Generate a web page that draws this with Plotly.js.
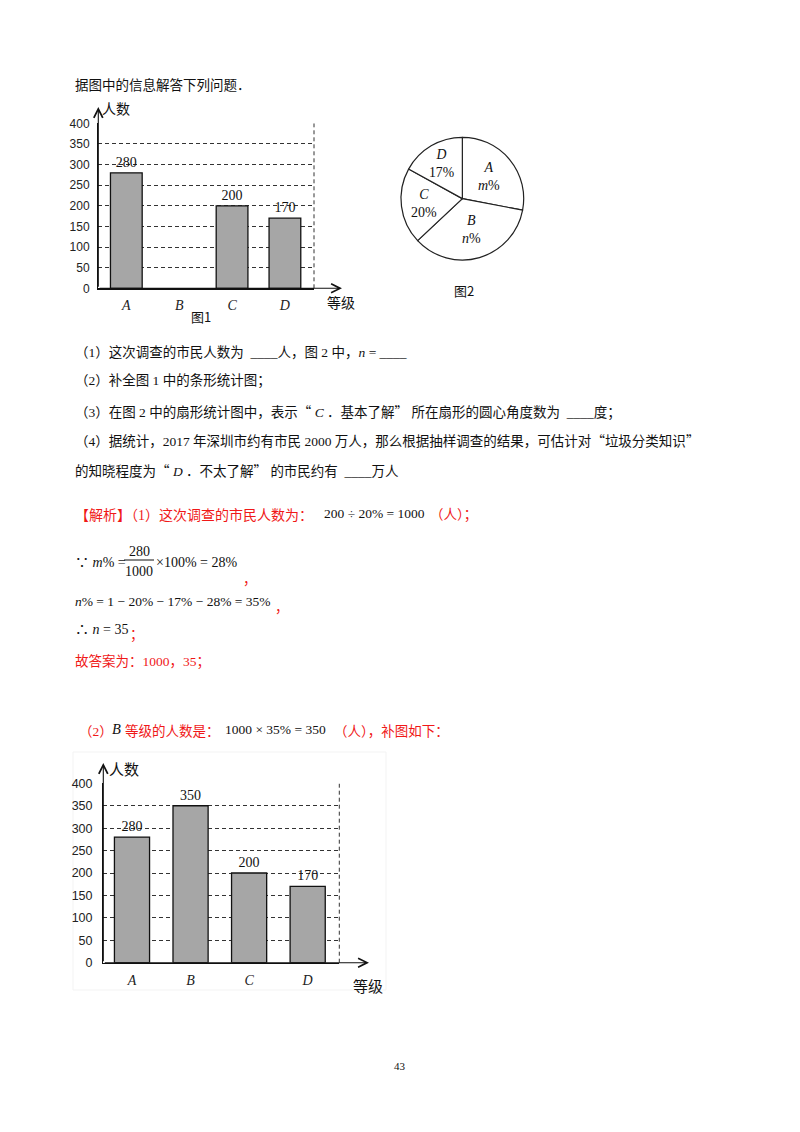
<!DOCTYPE html>
<html>
<head>
<meta charset="utf-8">
<script src="https://cdn.plot.ly/plotly-3.0.1.min.js"></script>
<style>
  html, body { margin: 0; padding: 0; background: #fff; }
  #page { width: 800px; height: 1132px; }
</style>
</head>
<body>
<div id="page"></div>
<script>
// 图1: B 等级未画出
let grades = ["A", "B", "C", "D"];
let counts1 = [280, null, 200, 170];
// 补全后的条形图
let counts2 = [280, 350, 200, 170];
// 图2 扇形
let pieValues = [28, 35, 20, 17];
let pieText = ["<i>m</i>%", "<i>n</i>%", "20%", "17%"];
let yTicks = [0, 50, 100, 150, 200, 250, 300, 350, 400];

const W = 800, H = 1132;
const px = x => x / W;
const py = y => 1 - y / H;

const SERIF = '"Liberation Serif", "Noto Sans CJK SC", serif';
const CJK = '"Liberation Serif", "Noto Sans CJK SC", sans-serif';
const RED = "#f01818";
const barColor = "#a6a6a6";

let tickText = grades.map(g => "<i>" + g + "</i>");

function barTrace(vals, xa, ya) {
    return {
        type: "bar",
        x: grades,
        y: vals,
        xaxis: xa,
        yaxis: ya,
        width: 0.6,
        marker: {color: barColor, line: {color: "#111", width: 1.3}},
        text: vals.map(v => v == null ? "" : String(v)),
        textposition: "outside",
        textfont: {family: SERIF, size: 14, color: "#111"},
        cliponaxis: false,
        hoverinfo: "skip"
    };
}

let pie = {
    type: "pie",
    values: pieValues,
    labels: grades,
    text: grades.map((g, i) => "<i>" + g + "</i><br>" + pieText[i]),
    textinfo: "text",
    textposition: "inside",
    insidetextorientation: "horizontal",
    sort: false,
    direction: "clockwise",
    rotation: 0,
    marker: {colors: ["#fff", "#fff", "#fff", "#fff"], line: {color: "#222", width: 1.2}},
    textfont: {family: SERIF, size: 14, color: "#111"},
    domain: {x: [px(400.7), px(524)], y: [py(260), py(137.3)]},
    showlegend: false,
    hoverinfo: "skip"
};

function yAxis(d0, d1, size, standoff) {
    return {
        domain: [py(d0), py(d1)],
        range: [0, 400],
        tickvals: yTicks,
        ticks: "",
        ticklabelstandoff: standoff,
        tickfont: {family: '"Liberation Sans", Arial, sans-serif', size: size, color: "#222"},
        showgrid: true,
        gridcolor: "#333",
        gridwidth: 1,
        griddash: "4px,3px",
        zeroline: false,
        showline: true,
        linecolor: "#111",
        linewidth: 1.3,
        fixedrange: true
    };
}

function xAxis(d0, d1, r0, r1, anchor) {
    return {
        domain: [px(d0), px(d1)],
        range: [r0, r1],
        type: "category",
        tickvals: grades,
        ticktext: tickText,
        ticks: "",
        ticklabelstandoff: 4,
        tickfont: {family: SERIF, size: 14, color: "#222"},
        showgrid: false,
        zeroline: false,
        showline: true,
        linecolor: "#111",
        linewidth: 1.3,
        anchor: anchor,
        fixedrange: true
    };
}

function arrow(x0, y0, x1, y1) {
    return {
        xref: "paper", yref: "paper",
        x: px(x1), y: py(y1),
        ax: x0 - x1, ay: y0 - y1,
        axref: "pixel", ayref: "pixel",
        text: "", showarrow: true,
        arrowhead: 5, arrowsize: 1.6, arrowwidth: 1.1, arrowcolor: "#111",
        standoff: 0, startstandoff: 0
    };
}

function txt(x, y, s, opt) {
    opt = opt || {};
    return {
        xref: "paper", yref: "paper",
        x: px(x), y: py(y),
        xanchor: opt.anchor || "left", yanchor: "middle",
        text: s, showarrow: false,
        font: {family: opt.family || CJK, size: opt.size || 13.5, color: opt.color || "#111"}
    };
}

const red = s => '<span style="color:' + RED + '">' + s + '</span>';
// 全角引号用中文字体
const cj = s => '<span style="font-family:Noto Sans CJK SC">' + s + '</span>';
const M = {family: SERIF, size: 14.5};

let annotations = [
    txt(73, 85, "据图中的信息解答下列问题．"),
    // 图1
    arrow(98.3, 288.3, 98.3, 107),
    arrow(98.3, 288.3, 342, 288.3),
    txt(116, 108, "人数", {anchor: "center", size: 14, family: '"Noto Sans CJK SC"'}),
    txt(341, 302, "等级", {anchor: "center", size: 14, family: '"Noto Sans CJK SC"'}),
    txt(201, 316, "图1", {anchor: "center", size: 13, family: '"Noto Sans CJK SC"'}),
    // 图2
    txt(464, 290, "图2", {anchor: "center", size: 13, family: '"Noto Sans CJK SC"'}),
    // 问题
    txt(73, 352, "（1）这次调查的市民人数为  ____人，图 2 中，<i>n</i> = ____"),
    txt(73, 381, "（2）补全图 1 中的条形统计图；"),
    txt(73, 411, "（3）在图 2 中的扇形统计图中，表示" + cj("“") + " <i>C</i> ．基本了解" + cj("”") + " 所在扇形的圆心角度数为  ____度；"),
    txt(73, 440, "（4）据统计，2017 年深圳市约有市民 2000 万人，那么根据抽样调查的结果，可估计对" + cj("“") + "垃圾分类知识" + cj("”")),
    txt(73, 470, "的知晓程度为" + cj("“") + " <i>D</i> ．不太了解" + cj("”") + " 的市民约有  ____万人"),
    // 解析
    txt(73, 515, red("【解析】（1）这次调查的市民人数为："), {size: 14}),
    txt(322, 513, "200 ÷ 20% = 1000", {family: SERIF, size: 13.5}),
    txt(428, 515, red("（人）；")),
    txt(73, 562, "∵ <i>m</i>% =", {family: SERIF, size: 14}),
    txt(139, 551, "280", {anchor: "center", family: SERIF, size: 14}),
    txt(139, 571, "1000", {anchor: "center", family: SERIF, size: 14}),
    txt(154, 562, "×100% = 28%", {family: SERIF, size: 14}),
    txt(241, 579, red("，")),
    txt(73, 601, "<i>n</i>% = 1 − 20% − 17% − 28% = 35%", {family: SERIF, size: 13.5}),
    txt(273, 607, red("，")),
    txt(73, 629, "∴ <i>n</i> = 35", {family: SERIF, size: 14}),
    txt(128, 635, red("；")),
    txt(73, 661, red("故答案为：1000，35；")),
    txt(77, 731, red("（2）")),
    txt(110, 729, "<i>B</i>", M),
    txt(123, 731, red("等级的人数是：")),
    txt(223, 729, "1000 × 35% = 350", {family: SERIF, size: 13.5}),
    txt(332, 731, red("（人），补图如下：")),
    // 补图
    arrow(103.3, 962.7, 103.3, 763),
    arrow(103.3, 962.7, 369, 962.7),
    txt(124, 768, "人数", {anchor: "center", size: 15, family: '"Noto Sans CJK SC"'}),
    txt(368, 985, "等级", {anchor: "center", size: 15, family: '"Noto Sans CJK SC"'}),
    // 页码
    txt(400, 1066, "43", {anchor: "center", family: SERIF, size: 11})
];

let shapes = [
    // 图1 右侧虚线
    {type: "line", xref: "x domain", yref: "y", x0: 1, x1: 1, y0: 0, y1: 400,
     line: {color: "#333", width: 1, dash: "4px,3px"}},
    // 补图 右侧虚线
    {type: "line", xref: "x2 domain", yref: "y2", x0: 1, x1: 1, y0: 0, y1: 400,
     line: {color: "#333", width: 1, dash: "4px,3px"}},
    // 分数线
    {type: "line", xref: "paper", yref: "paper", x0: px(124), x1: px(154), y0: py(560), y1: py(560),
     line: {color: "#111", width: 1}},
    // 补图 图片淡边框
    {type: "rect", xref: "paper", yref: "paper", x0: px(73), x1: px(386), y0: py(990), y1: py(752),
     line: {color: "#f3f3f3", width: 1}, layer: "below"}
];

let layout = {
    width: W,
    height: H,
    margin: {l: 0, r: 0, t: 0, b: 0},
    paper_bgcolor: "#fff",
    plot_bgcolor: "rgba(0,0,0,0)",
    showlegend: false,
    xaxis: xAxis(98.3, 314, -0.53, 3.55, "y"),
    yaxis: yAxis(288.3, 123.3, 12, 5),
    xaxis2: xAxis(103.3, 339.3, -0.49, 3.54, "y2"),
    yaxis2: Object.assign(yAxis(962.7, 783.3, 12.5, 7), {anchor: "x2"}),
    annotations: annotations,
    shapes: shapes
};
layout.yaxis.anchor = "x";

let data = [barTrace(counts1, "x", "y"), barTrace(counts2, "x2", "y2"), pie];

Plotly.newPlot("page", data, layout, {staticPlot: true});
</script>
</body>
</html>
